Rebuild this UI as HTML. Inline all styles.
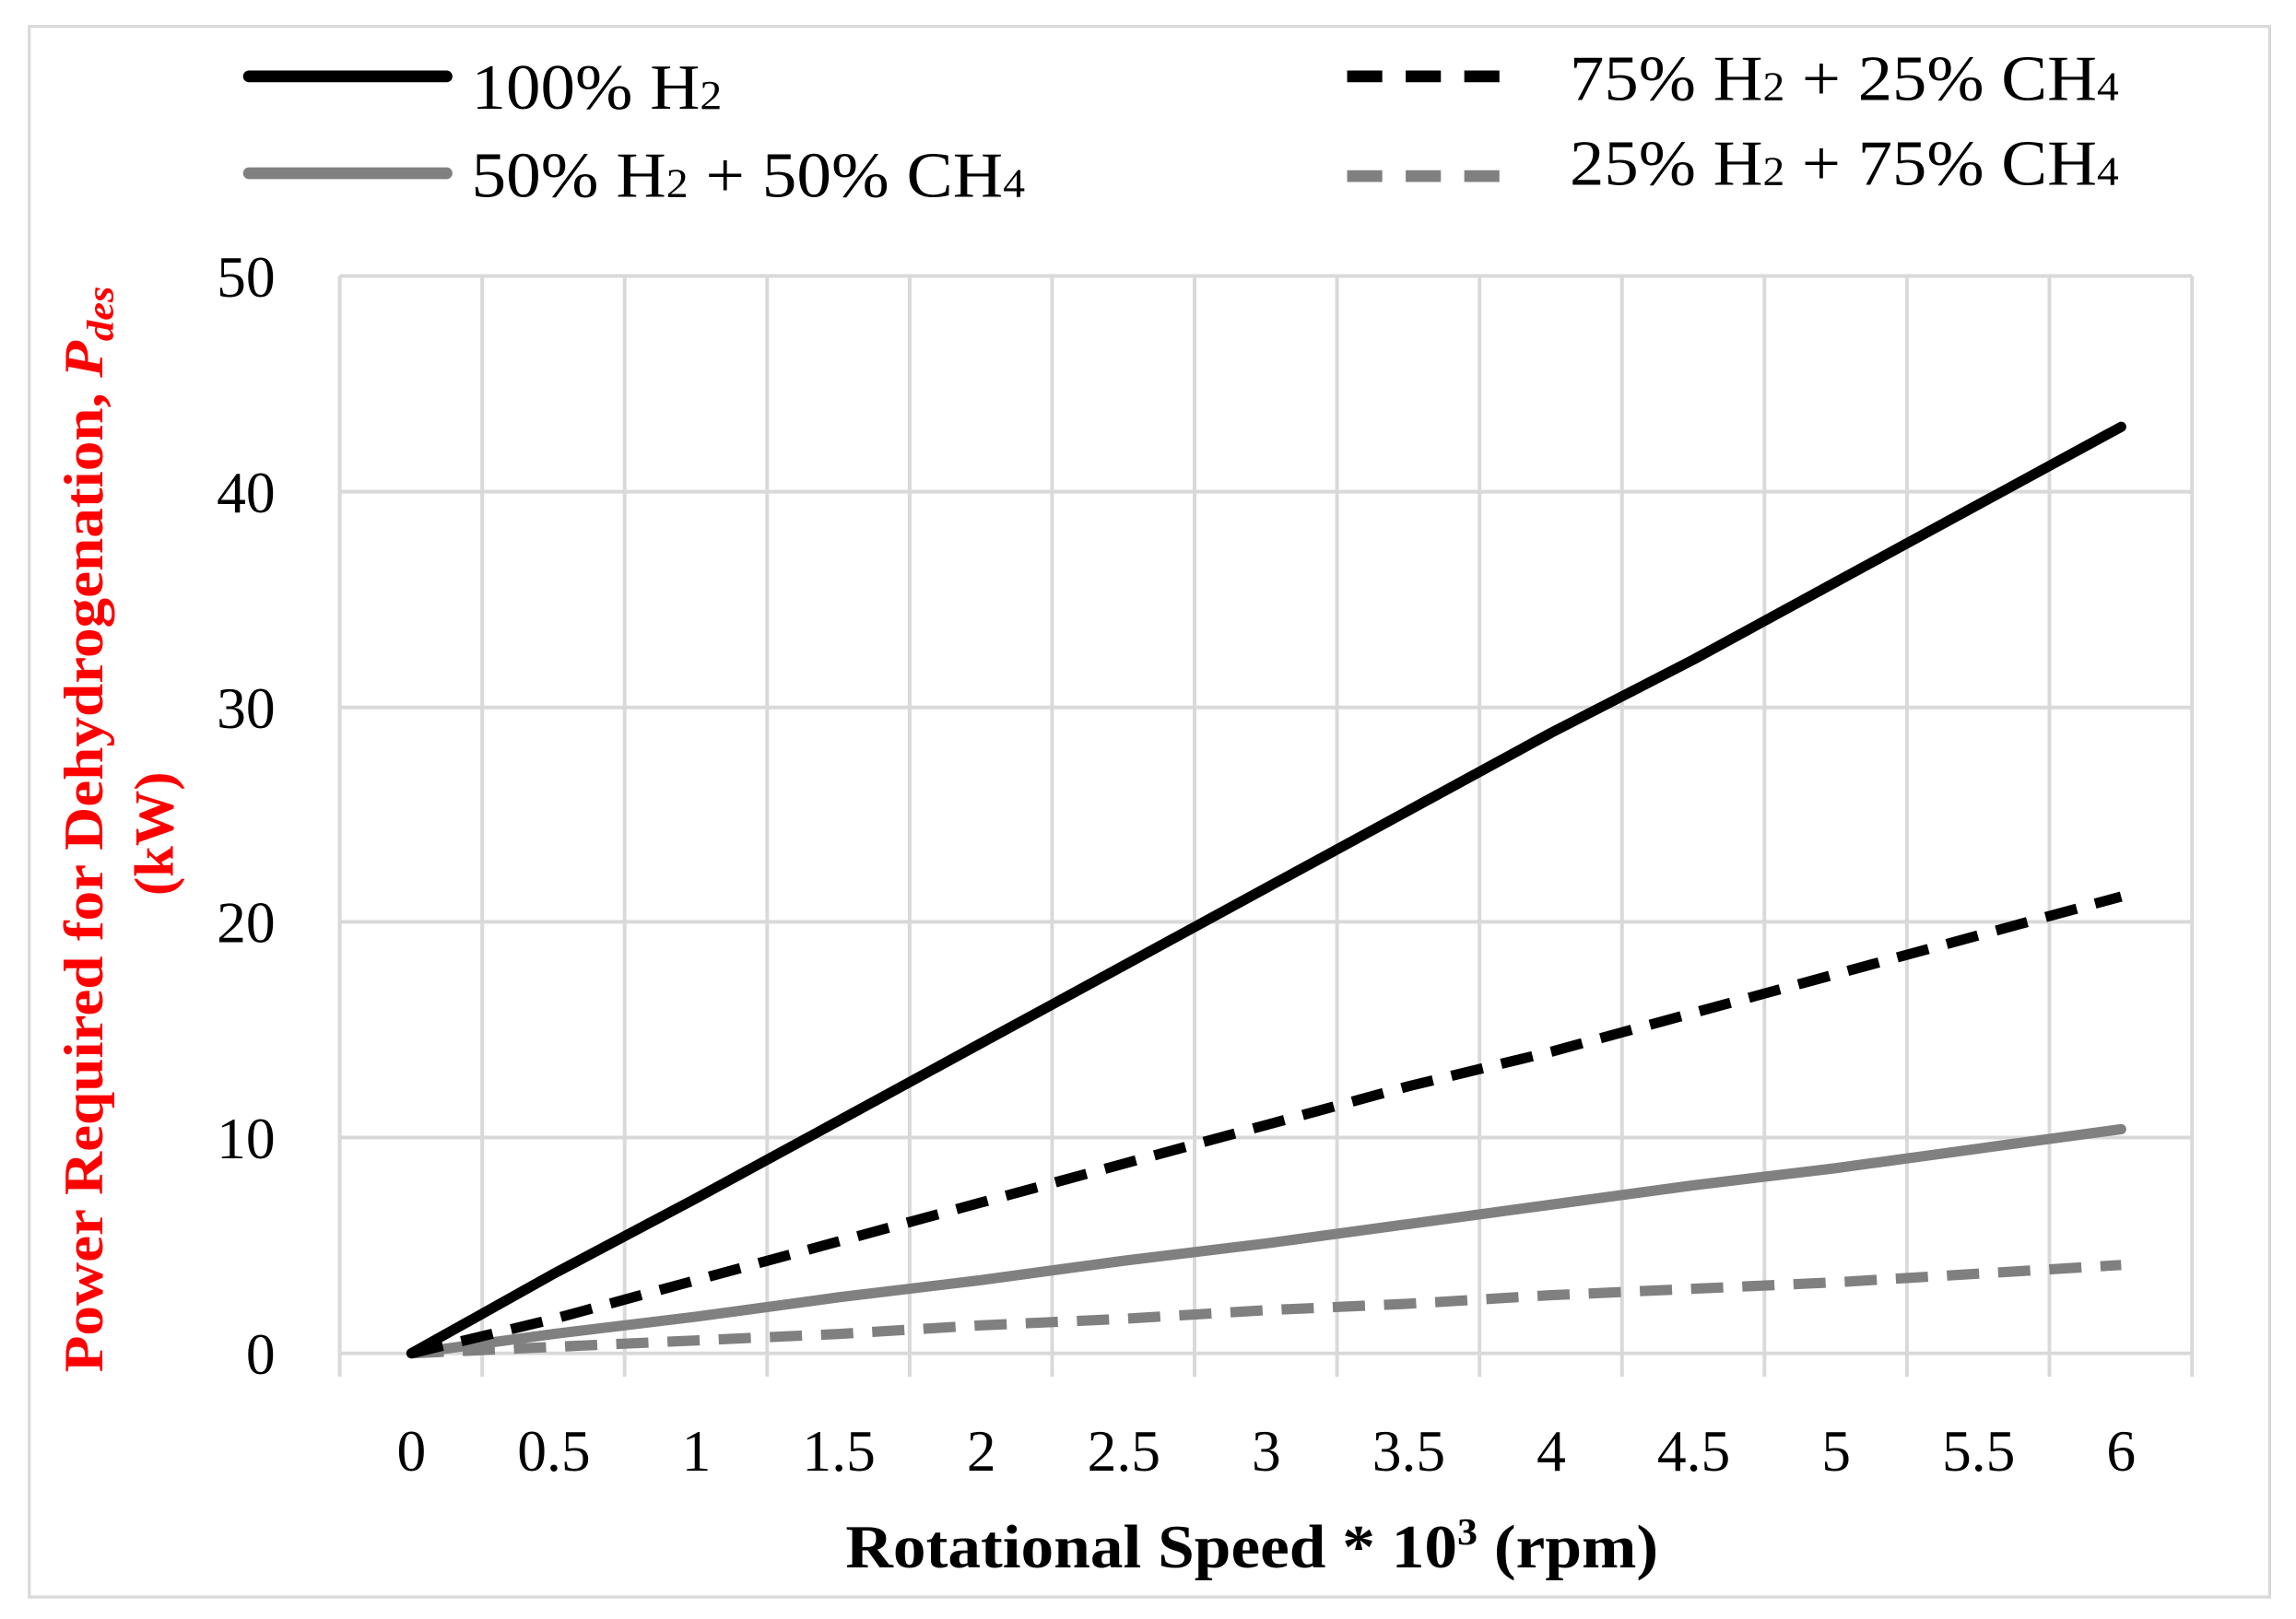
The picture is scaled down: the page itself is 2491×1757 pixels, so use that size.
<!DOCTYPE html>
<html><head><meta charset="utf-8"><style>
html,body{margin:0;padding:0;background:#fff;}
svg{display:block;}
text{font-family:"Liberation Serif",serif;}
</style></head><body>
<svg width="2491" height="1757" viewBox="0 0 1568 1103" preserveAspectRatio="none" xmlns="http://www.w3.org/2000/svg">
<rect x="0" y="0" width="1568" height="1103" fill="#fff"/>
<rect x="20" y="18" width="1530" height="1070" fill="none" stroke="#d9d9d9" stroke-width="2"/>
<g stroke="#d9d9d9" stroke-width="2.5">
<line x1="232" y1="188" x2="1497" y2="188"/>
<line x1="232" y1="335" x2="1497" y2="335"/>
<line x1="232" y1="482" x2="1497" y2="482"/>
<line x1="232" y1="628" x2="1497" y2="628"/>
<line x1="232" y1="775" x2="1497" y2="775"/>
<line x1="232" y1="922" x2="1497" y2="922"/>
<line x1="232" y1="188" x2="232" y2="938"/>
<line x1="329.3" y1="188" x2="329.3" y2="938"/>
<line x1="426.6" y1="188" x2="426.6" y2="938"/>
<line x1="523.9" y1="188" x2="523.9" y2="938"/>
<line x1="621.2" y1="188" x2="621.2" y2="938"/>
<line x1="718.5" y1="188" x2="718.5" y2="938"/>
<line x1="815.8" y1="188" x2="815.8" y2="938"/>
<line x1="913.1" y1="188" x2="913.1" y2="938"/>
<line x1="1010.4" y1="188" x2="1010.4" y2="938"/>
<line x1="1107.7" y1="188" x2="1107.7" y2="938"/>
<line x1="1205" y1="188" x2="1205" y2="938"/>
<line x1="1302.3" y1="188" x2="1302.3" y2="938"/>
<line x1="1399.6" y1="188" x2="1399.6" y2="938"/>
<line x1="1497" y1="188" x2="1497" y2="938"/>
</g>
<g font-size="40" text-anchor="end" fill="#000">
<text x="188" y="202">50</text>
<text x="188" y="349">40</text>
<text x="188" y="496">30</text>
<text x="188" y="642">20</text>
<text x="188" y="789">10</text>
<text x="188" y="936">0</text>
</g>
<g font-size="40" text-anchor="middle" fill="#000">
<text x="281" y="1002">0</text>
<text x="378.3" y="1002">0.5</text>
<text x="475.6" y="1002">1</text>
<text x="572.9" y="1002">1.5</text>
<text x="670.2" y="1002">2</text>
<text x="767.5" y="1002">2.5</text>
<text x="864.8" y="1002">3</text>
<text x="962.1" y="1002">3.5</text>
<text x="1059.4" y="1002">4</text>
<text x="1156.7" y="1002">4.5</text>
<text x="1254" y="1002">5</text>
<text x="1351.3" y="1002">5.5</text>
<text x="1448.6" y="1002">6</text>
</g>
<text x="855" y="1068" font-size="42" font-weight="bold" text-anchor="middle" textLength="555" lengthAdjust="spacingAndGlyphs">Rotational Speed * 10<tspan font-size="26" dy="-16">3</tspan><tspan dy="16"> (rpm)</tspan></text>
<text transform="translate(70,565) rotate(-90)" fill="#ff0000" font-weight="bold" font-size="38" text-anchor="middle" textLength="740" lengthAdjust="spacingAndGlyphs">Power Required for Dehydrogenation, <tspan font-style="italic">P</tspan><tspan font-style="italic" font-size="26" dy="7">des</tspan></text>
<text transform="translate(118,568) rotate(-90)" fill="#ff0000" font-weight="bold" font-size="38" font-style="normal" text-anchor="middle">(kW)</text>
<g fill="none" stroke-width="7" stroke-linejoin="round">
<polyline stroke="#808080" stroke-dasharray="22,13" points="281,922 378.3,917.6 475.6,913.2 572.9,908.8 670.2,902.9 767.5,898.5 864.8,892.6 962.1,888.2 1059.4,882.4 1156.7,878 1254,873.6 1351.3,867.7 1448.6,861.8"/>
<polyline stroke="#808080" stroke-linecap="round" points="281,922 378.3,908.8 475.6,897 572.9,883.8 670.2,872.1 767.5,858.9 864.8,847.1 962.1,833.9 1059.4,820.7 1156.7,807.5 1254,795.8 1351.3,782.5 1448.6,769.3"/>
<polyline stroke="#000" stroke-dasharray="22,13" points="281,922 378.3,898.5 475.6,872.1 572.9,845.7 670.2,819.2 767.5,792.8 864.8,766.4 962.1,740 1059.4,716.5 1156.7,690 1254,663.6 1351.3,637.2 1448.6,610.8"/>
<polyline stroke="#000" stroke-linecap="round" points="281,922 378.3,867.7 475.6,816.3 572.9,763.5 670.2,710.6 767.5,657.8 864.8,604.9 962.1,552.1 1059.4,499.2 1156.7,449.3 1254,396.4 1351.3,343.6 1448.6,290.8"/>
</g>
<g stroke-width="8" stroke-linecap="round">
<line x1="170" y1="52" x2="305" y2="52" stroke="#000"/>
<line x1="170" y1="118" x2="305" y2="118" stroke="#808080"/>
<line x1="920" y1="52" x2="1040" y2="52" stroke="#000" stroke-dasharray="24,16" stroke-linecap="butt"/>
<line x1="920" y1="120" x2="1040" y2="120" stroke="#808080" stroke-dasharray="24,16" stroke-linecap="butt"/>
</g>
<g font-size="44" fill="#000">
<text x="322" y="74" textLength="171" lengthAdjust="spacingAndGlyphs">100% H<tspan font-size="28">2</tspan></text>
<text x="322" y="134" textLength="378" lengthAdjust="spacingAndGlyphs">50% H<tspan font-size="28">2</tspan> + 50% CH<tspan font-size="28">4</tspan></text>
<text x="1072" y="68" textLength="375" lengthAdjust="spacingAndGlyphs">75% H<tspan font-size="28">2</tspan> + 25% CH<tspan font-size="28">4</tspan></text>
<text x="1072" y="126" textLength="375" lengthAdjust="spacingAndGlyphs">25% H<tspan font-size="28">2</tspan> + 75% CH<tspan font-size="28">4</tspan></text>
</g>
</svg>
</body></html>
